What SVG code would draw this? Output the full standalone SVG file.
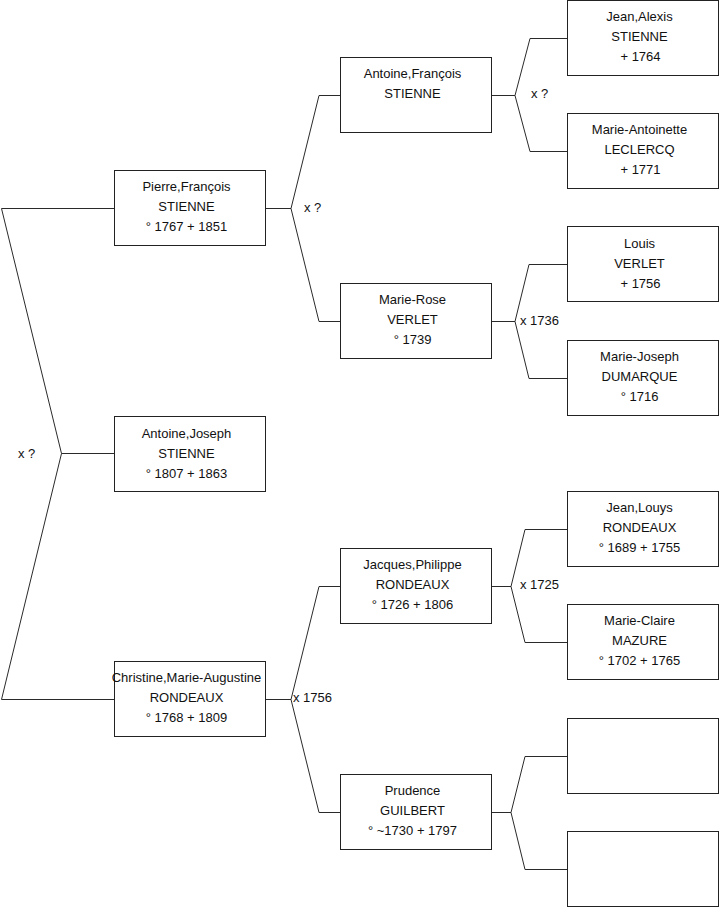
<svg xmlns="http://www.w3.org/2000/svg" width="719" height="908" viewBox="0 0 719 908">
<style>
rect.b{fill:#fff;stroke:#222;stroke-width:1}
.c path{fill:none;stroke:#2a2a2a;stroke-width:1}
text{font-family:"Liberation Sans",Arial,sans-serif;font-size:13px;fill:#111}
.n text{text-anchor:middle}
</style>
<rect width="719" height="908" fill="#fff"/>
<g class="c" id="connectors">
<path d="M114.5,208.5H1.5L61.5,453.5L1.5,699.5H114.5M61.5,453.5H114.5"/>
<path d="M265.5,208.5H291L319,95.5H340.5M291,208.5L319,321.5H340.5"/>
<path d="M265.5,699.5H291L319,586.5H340.5M291,699.5L319,812.5H340.5"/>
<path d="M491.5,95.5H515L530,38.5H567.5M515,95.5L530,151.5H567.5"/>
<path d="M491.5,321.5H515L529,264.5H567.5M515,321.5L529,378.5H567.5"/>
<path d="M491.5,586.5H511L525,529.5H567.5M511,586.5L525,642.5H567.5"/>
<path d="M491.5,812.5H511L525,756.5H567.5M511,812.5L525,869.5H567.5"/>
</g>
<g id="labels">
<text x="18" y="458">x ?</text>
<text x="304" y="212">x ?</text>
<text x="531" y="98">x ?</text>
<text x="520" y="325">x 1736</text>
<text x="520" y="589">x 1725</text>
<text x="293" y="702">x 1756</text>
</g>
<g class="n" id="pierre"><rect class="b" x="114.5" y="170.5" width="151" height="75"/><text x="186.5" y="191">Pierre,François</text><text x="186.5" y="211">STIENNE</text><text x="186.5" y="231">° 1767 + 1851</text></g>
<g class="n" id="antoine-joseph"><rect class="b" x="114.5" y="416.5" width="151" height="75"/><text x="186.5" y="438">Antoine,Joseph</text><text x="186.5" y="458">STIENNE</text><text x="186.5" y="478">° 1807 + 1863</text></g>
<g class="n" id="christine"><rect class="b" x="114.5" y="661.5" width="151" height="75"/><text x="186.5" y="682">Christine,Marie-Augustine</text><text x="186.5" y="702">RONDEAUX</text><text x="186.5" y="722">° 1768 + 1809</text></g>
<g class="n" id="antoine-francois"><rect class="b" x="340.5" y="57.5" width="151" height="75"/><text x="412.5" y="78">Antoine,François</text><text x="412.5" y="98">STIENNE</text></g>
<g class="n" id="marie-rose"><rect class="b" x="340.5" y="283.5" width="151" height="75"/><text x="412.5" y="304">Marie-Rose</text><text x="412.5" y="324">VERLET</text><text x="412.5" y="344">° 1739</text></g>
<g class="n" id="jacques"><rect class="b" x="340.5" y="548.5" width="151" height="75"/><text x="412.5" y="569">Jacques,Philippe</text><text x="412.5" y="589">RONDEAUX</text><text x="412.5" y="609">° 1726 + 1806</text></g>
<g class="n" id="prudence"><rect class="b" x="340.5" y="774.5" width="151" height="75"/><text x="412.5" y="795">Prudence</text><text x="412.5" y="815">GUILBERT</text><text x="412.5" y="835">° ~1730 + 1797</text></g>
<g class="n" id="jean-alexis"><rect class="b" x="567.5" y="0.5" width="151" height="75"/><text x="639.5" y="21">Jean,Alexis</text><text x="639.5" y="41">STIENNE</text><text x="640.5" y="61">+ 1764</text></g>
<g class="n" id="marie-antoinette"><rect class="b" x="567.5" y="113.5" width="151" height="75"/><text x="639.5" y="134">Marie-Antoinette</text><text x="639.5" y="154">LECLERCQ</text><text x="640.5" y="174">+ 1771</text></g>
<g class="n" id="louis"><rect class="b" x="567.5" y="226.5" width="151" height="75"/><text x="639.5" y="248">Louis</text><text x="639.5" y="268">VERLET</text><text x="640.5" y="288">+ 1756</text></g>
<g class="n" id="marie-joseph"><rect class="b" x="567.5" y="340.5" width="151" height="75"/><text x="639.5" y="361">Marie-Joseph</text><text x="639.5" y="381">DUMARQUE</text><text x="639.5" y="401">° 1716</text></g>
<g class="n" id="jean-louys"><rect class="b" x="567.5" y="491.5" width="151" height="75"/><text x="639.5" y="512">Jean,Louys</text><text x="639.5" y="532">RONDEAUX</text><text x="639.5" y="552">° 1689 + 1755</text></g>
<g class="n" id="marie-claire"><rect class="b" x="567.5" y="604.5" width="151" height="75"/><text x="639.5" y="625">Marie-Claire</text><text x="639.5" y="645">MAZURE</text><text x="639.5" y="665">° 1702 + 1765</text></g>
<g class="n" id="empty-1"><rect class="b" x="567.5" y="718.5" width="151" height="75"/></g>
<g class="n" id="empty-2"><rect class="b" x="567.5" y="831.5" width="151" height="75"/></g>
</svg>
